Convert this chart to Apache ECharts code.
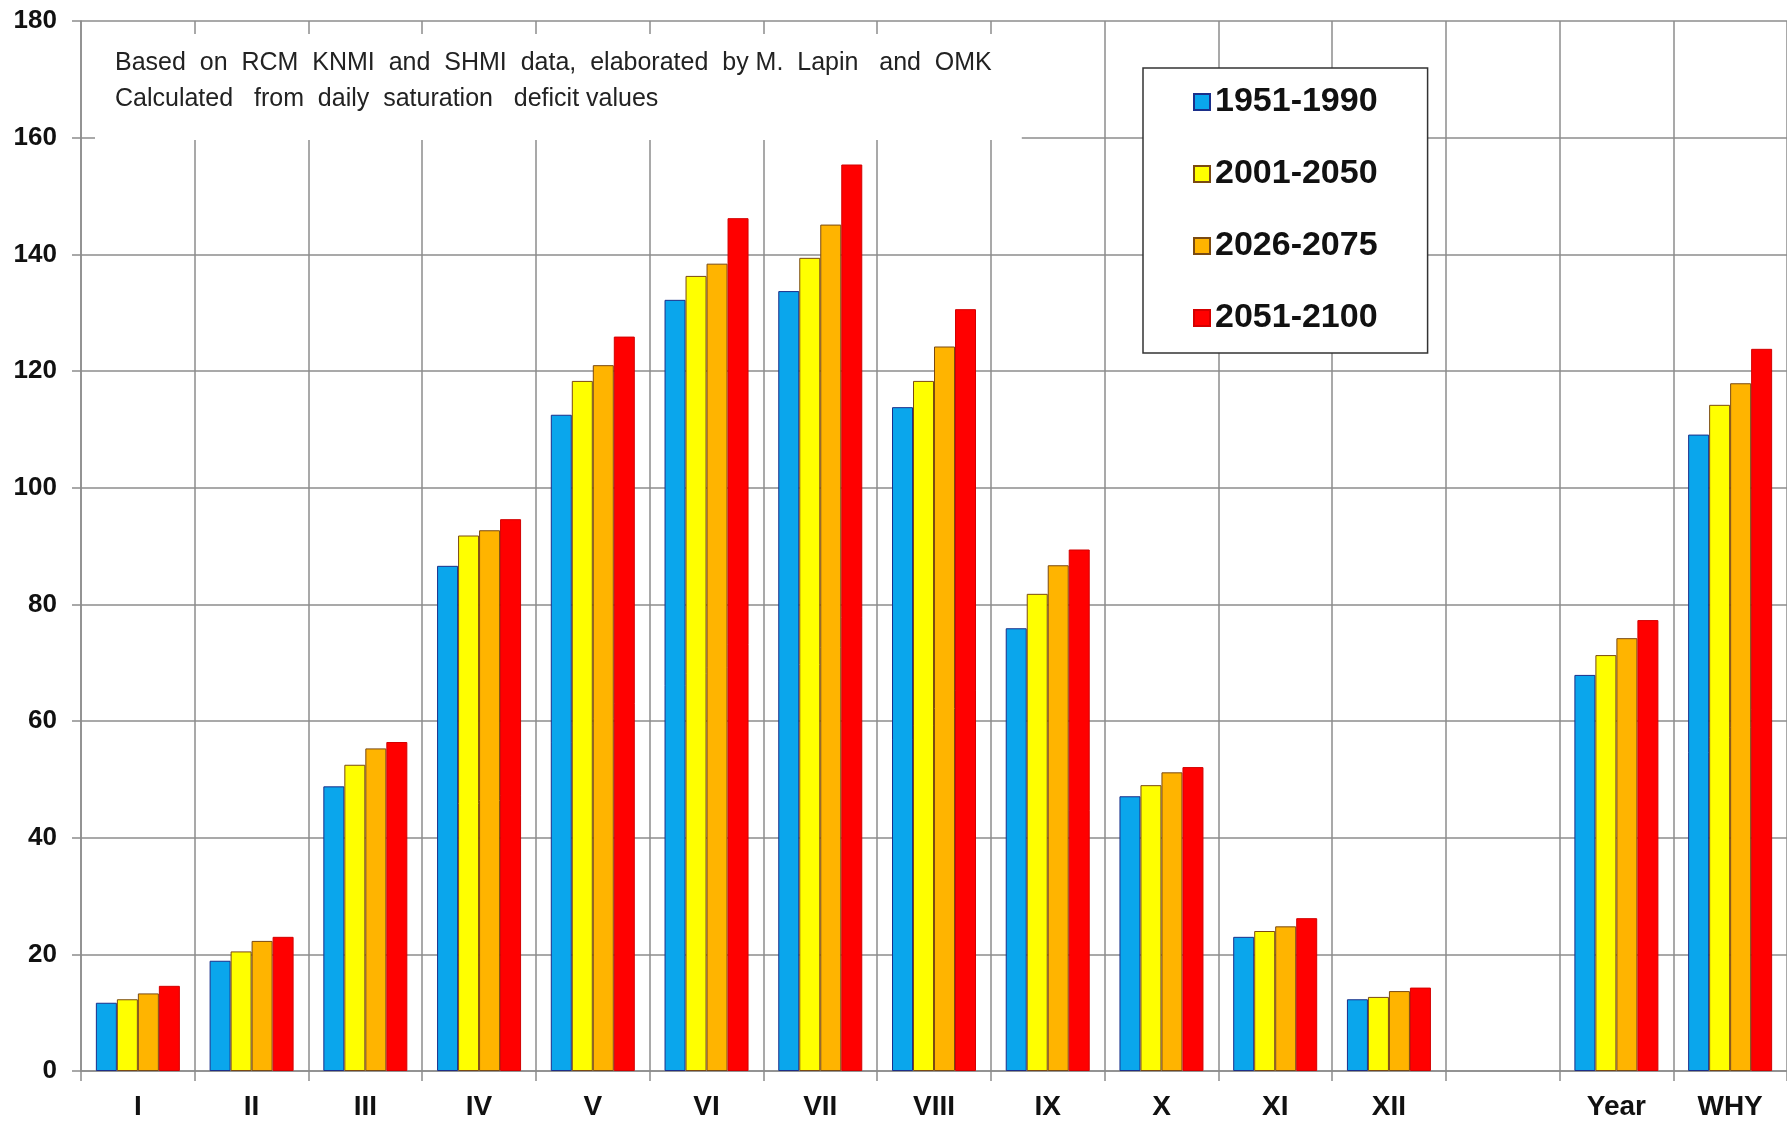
<!DOCTYPE html>
<html>
<head>
<meta charset="utf-8">
<script src="https://cdn.jsdelivr.net/npm/echarts@6/dist/echarts.min.js"></script>
<style>
  html, body { margin: 0; padding: 0; background: #fff; }
  #chart { width: 1787px; height: 1121px; }
</style>
</head>
<body>
<div id="chart"></div>
<script>
// categories: months, an empty slot, then Year and WHY
const categories = ['I', 'II', 'III', 'IV', 'V', 'VI', 'VII', 'VIII', 'IX', 'X', 'XI', 'XII', '', 'Year', 'WHY']
const seriesNames = ['1951-1990', '2001-2050', '2026-2075', '2051-2100']

const p1951 = [11.7, 18.9, 48.8, 86.6, 112.5, 132.2, 133.7, 113.8, 75.9, 47.1, 23.0, 12.3, null, 67.9, 109.1]
const p2001 = [12.3, 20.5, 52.5, 91.8, 118.3, 136.3, 139.4, 118.3, 81.8, 49.0, 24.0, 12.7, null, 71.3, 114.2]
const p2026 = [13.3, 22.3, 55.3, 92.7, 121.0, 138.4, 145.1, 124.2, 86.7, 51.2, 24.8, 13.7, null, 74.2, 117.9]
const p2051 = [14.6, 23.0, 56.4, 94.6, 125.9, 146.2, 155.4, 130.6, 89.4, 52.1, 26.2, 14.3, null, 77.3, 123.8]

const yMin = 0
const yMax = 180
const yStep = 20

const chart = echarts.init(document.getElementById('chart'))

const gridColor = '#8c8c8c'
const font = '"Liberation Sans", Arial, sans-serif'

function barSeries (name, data, color, border) {
  return {
    name: name,
    type: 'bar',
    data: data,
    barWidth: 21,
    barGap: '0%',
    itemStyle: {
      color: color,
      borderColor: border,
      borderWidth: 1
    }
  }
}

const option = {
  backgroundColor: '#fff',
  animation: false,
  textStyle: { fontFamily: font },
  title: {
    text: 'Based  on  RCM  KNMI  and  SHMI  data,  elaborated  by M.  Lapin   and  OMK\nCalculated   from  daily  saturation   deficit values',
    left: 95,
    top: 34,
    backgroundColor: '#fff',
    padding: [11, 30, 23, 20],
    textStyle: {
      fontFamily: font,
      fontWeight: 'normal',
      fontSize: 25,
      lineHeight: 36,
      color: '#222'
    }
  },
  legend: {
    orient: 'vertical',
    left: 1143,
    top: 68,
    data: seriesNames,
    backgroundColor: '#fff',
    borderColor: '#333',
    borderWidth: 1.5,
    padding: [14, 50, 15, 50],
    itemGap: 32,
    itemWidth: 16,
    itemHeight: 16,
    icon: 'rect',
    textStyle: {
      fontFamily: font,
      fontWeight: 'bold',
      fontSize: 34,
      lineHeight: 40,
      color: '#111'
    }
  },
  grid: {
    left: 81,
    right: -8,
    top: 21,
    bottom: 50,
    containLabel: false
  },
  xAxis: {
    type: 'category',
    data: categories,
    boundaryGap: true,
    axisLine: { show: true, lineStyle: { color: gridColor, width: 1.5 } },
    axisTick: { show: true, length: 10, interval: 0, lineStyle: { color: gridColor, width: 1.5 } },
    splitLine: { show: true, interval: 0, lineStyle: { color: gridColor, width: 1.5 } },
    axisLabel: {
      interval: 0,
      margin: 22,
      fontFamily: font,
      fontWeight: 'bold',
      fontSize: 28,
      color: '#111'
    }
  },
  yAxis: {
    type: 'value',
    min: yMin,
    max: yMax,
    interval: yStep,
    axisLine: { show: true, lineStyle: { color: gridColor, width: 1.5 } },
    axisTick: { show: true, length: 9, lineStyle: { color: gridColor, width: 1.5 } },
    splitLine: { show: true, lineStyle: { color: gridColor, width: 1.5 } },
    axisLabel: {
      margin: 24,
      fontFamily: font,
      fontWeight: 'bold',
      fontSize: 26,
      color: '#111'
    }
  },
  series: [
    barSeries(seriesNames[0], p1951, '#0aa6ec', '#1b2f8a'),
    barSeries(seriesNames[1], p2001, '#ffff00', '#7a4a12'),
    barSeries(seriesNames[2], p2026, '#ffb400', '#7a4a12'),
    barSeries(seriesNames[3], p2051, '#ff0000', '#d40000')
  ]
}

chart.setOption(option)
</script>
</body>
</html>
